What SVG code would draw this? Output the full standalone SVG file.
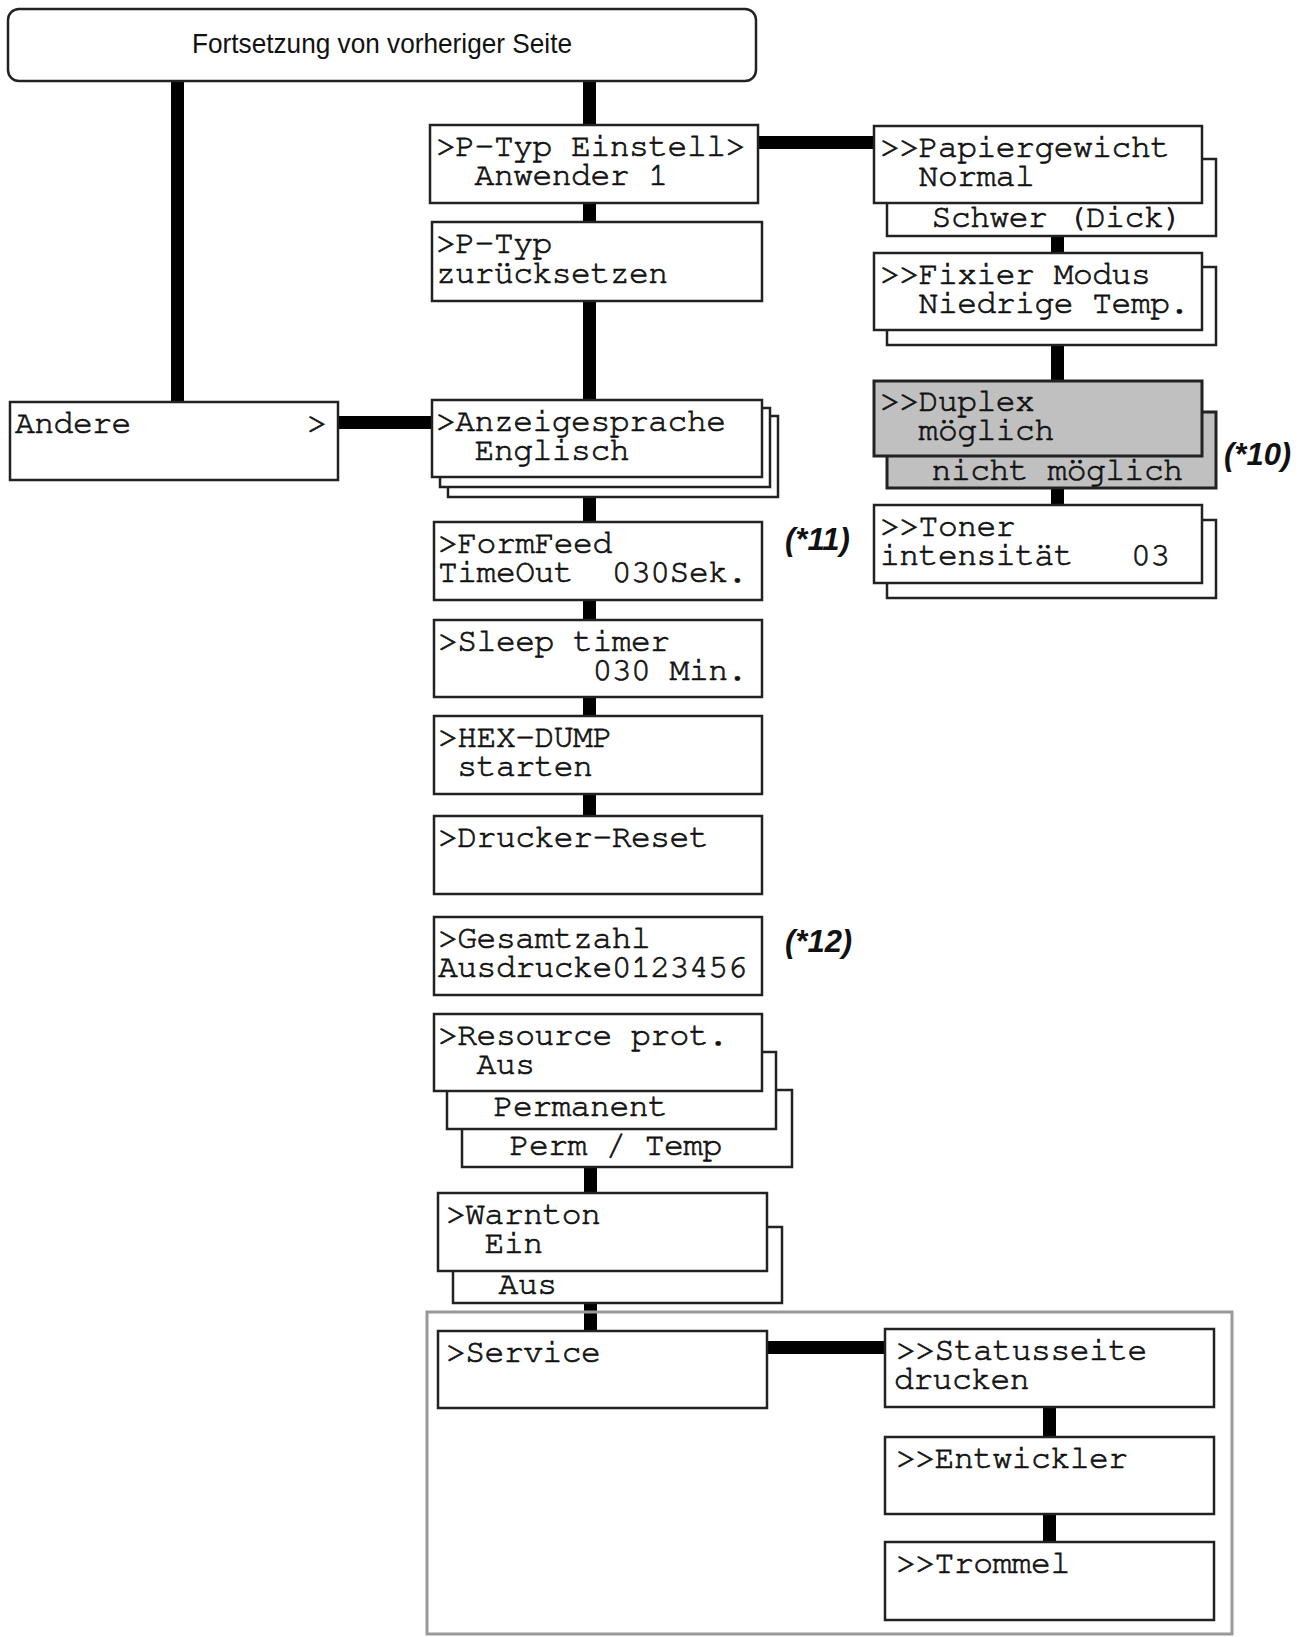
<svg xmlns="http://www.w3.org/2000/svg" width="1301" height="1637" viewBox="0 0 1301 1637">
<style>
.bx{fill:#fff;stroke:#222;stroke-width:2.5}
.gy{fill:#c0c0c0;stroke:#222;stroke-width:3}
.t{font-family:"Nimbus Mono PS","FreeMono","Courier New","Liberation Mono","DejaVu Sans Mono",monospace;font-size:33px;letter-spacing:-0.5px;fill:#111;stroke:#111;stroke-width:0.7px;white-space:pre}
.an{font-family:"Liberation Sans",Arial,sans-serif;font-size:31px;font-weight:bold;font-style:italic;fill:#111}
.c{fill:#000}
</style>
<rect width="1301" height="1637" fill="#fff"/>
<g id="connectors">
<rect class="c" x="171" y="81" width="13" height="322"/>
<rect class="c" x="583" y="81" width="13" height="45"/>
<rect class="c" x="583" y="202" width="13" height="21"/>
<rect class="c" x="583" y="300" width="13" height="101"/>
<rect class="c" x="757" y="136" width="118" height="13"/>
<rect class="c" x="337" y="416" width="96" height="13"/>
<rect class="c" x="583" y="476" width="13" height="47"/>
<rect class="c" x="583" y="599" width="13" height="22"/>
<rect class="c" x="583" y="696" width="13" height="21"/>
<rect class="c" x="583" y="793" width="13" height="24"/>
<rect class="c" x="584" y="1166" width="13" height="28"/>
<rect class="c" x="584" y="1302" width="13" height="30"/>
<rect class="c" x="766" y="1341" width="120" height="13"/>
<rect class="c" x="1043" y="1406" width="13" height="32"/>
<rect class="c" x="1043" y="1513" width="13" height="30"/>
<rect class="c" x="1051" y="235" width="13" height="19"/>
<rect class="c" x="1051" y="329" width="13" height="53"/>
<rect class="c" x="1051" y="487" width="13" height="19"/>
</g>
<g id="service-group"><rect x="427" y="1312" width="805" height="322" fill="none" stroke="#999" stroke-width="3"/></g>
<g id="top"><rect x="8" y="9" width="748" height="72" rx="11" fill="#fff" stroke="#222" stroke-width="2.5"/>
<text x="382" y="53" text-anchor="middle" font-family="'Liberation Sans',Arial,sans-serif" font-size="28" textLength="380" lengthAdjust="spacingAndGlyphs" fill="#111">Fortsetzung von vorheriger Seite</text></g>
<g id="ptyp-einstell"><rect class="bx" x="430" y="125" width="328" height="78"/>
<text class="t" x="436" y="156">&gt;P-Typ Einstell&gt;</text><text class="t" x="436" y="185">  Anwender 1</text></g>
<g id="ptyp-reset"><rect class="bx" x="432" y="222" width="330" height="79"/>
<text class="t" x="436" y="253">&gt;P-Typ</text><text class="t" x="436" y="283">zurücksetzen</text></g>
<g id="andere"><rect class="bx" x="10" y="402" width="328" height="78"/>
<text class="t" x="15" y="433">Andere<tspan x="307">&gt;</tspan></text></g>
<g id="anzeigesprache"><rect class="bx" x="448" y="416" width="330" height="81"/><rect class="bx" x="440" y="408" width="330" height="79"/><rect class="bx" x="432" y="400" width="330" height="77"/>
<text class="t" x="436" y="431">&gt;Anzeigesprache</text><text class="t" x="436" y="460">  Englisch</text></g>
<g id="formfeed"><rect class="bx" x="434" y="522" width="328" height="78"/>
<text class="t" x="438" y="553">&gt;FormFeed</text><text class="t" x="438" y="582">TimeOut  030Sek.</text></g>
<text class="an" x="785" y="550">(*11)</text>
<g id="sleep"><rect class="bx" x="434" y="620" width="328" height="77"/>
<text class="t" x="438" y="651">&gt;Sleep timer</text><text class="t" x="438" y="680">        030 Min.</text></g>
<g id="hexdump"><rect class="bx" x="434" y="716" width="328" height="78"/>
<text class="t" x="438" y="747">&gt;HEX-DUMP</text><text class="t" x="438" y="776"> starten</text></g>
<g id="reset"><rect class="bx" x="434" y="816" width="328" height="78"/>
<text class="t" x="438" y="847">&gt;Drucker-Reset</text></g>
<g id="gesamtzahl"><rect class="bx" x="434" y="917" width="328" height="78"/>
<text class="t" x="438" y="948">&gt;Gesamtzahl</text><text class="t" x="438" y="977">Ausdrucke0123456</text></g>
<text class="an" x="785" y="952">(*12)</text>
<g id="resource"><rect class="bx" x="462" y="1090" width="330" height="77"/><rect class="bx" x="447" y="1052" width="329" height="77"/><rect class="bx" x="434" y="1014" width="328" height="77"/>
<text class="t" x="438" y="1045">&gt;Resource prot.</text><text class="t" x="438" y="1074">  Aus</text>
<text class="t" x="455" y="1116">  Permanent</text><text class="t" x="471" y="1155">  Perm / Temp</text></g>
<g id="warnton"><rect class="bx" x="453" y="1227" width="329" height="76"/><rect class="bx" x="438" y="1193" width="329" height="78"/>
<text class="t" x="446" y="1224">&gt;Warnton</text><text class="t" x="446" y="1253">  Ein</text><text class="t" x="460" y="1294">  Aus</text></g>
<g id="service"><rect class="bx" x="438" y="1331" width="329" height="77"/>
<text class="t" x="446" y="1362">&gt;Service</text></g>
<g id="statusseite"><rect class="bx" x="885" y="1329" width="329" height="78"/>
<text class="t" x="896" y="1360">&gt;&gt;Statusseite</text><text class="t" x="894" y="1389">drucken</text></g>
<g id="entwickler"><rect class="bx" x="885" y="1437" width="329" height="77"/>
<text class="t" x="896" y="1468">&gt;&gt;Entwickler</text></g>
<g id="trommel"><rect class="bx" x="885" y="1542" width="329" height="78"/>
<text class="t" x="896" y="1573">&gt;&gt;Trommel</text></g>
<g id="papiergewicht"><rect class="bx" x="887" y="159" width="329" height="77"/><rect class="bx" x="874" y="126" width="328" height="77"/>
<text class="t" x="880" y="157">&gt;&gt;Papiergewicht</text><text class="t" x="880" y="186">  Normal</text><text class="t" x="893" y="227">  Schwer (Dick)</text></g>
<g id="fixier"><rect class="bx" x="887" y="267" width="329" height="78"/><rect class="bx" x="874" y="253" width="328" height="77"/>
<text class="t" x="880" y="284">&gt;&gt;Fixier Modus</text><text class="t" x="880" y="313">  Niedrige Temp.</text></g>
<g id="duplex"><rect class="gy" x="887" y="412" width="329" height="76"/><rect class="gy" x="874" y="381" width="328" height="75"/>
<text class="t" x="880" y="411">&gt;&gt;Duplex</text><text class="t" x="880" y="440">  möglich</text><text class="t" x="893" y="480">  nicht möglich</text></g>
<text class="an" x="1224" y="465">(*10)</text>
<g id="toner"><rect class="bx" x="887" y="520" width="329" height="78"/><rect class="bx" x="874" y="505" width="328" height="78"/>
<text class="t" x="880" y="536">&gt;&gt;Toner</text><text class="t" x="880" y="565">intensität   03</text></g>
</svg>
